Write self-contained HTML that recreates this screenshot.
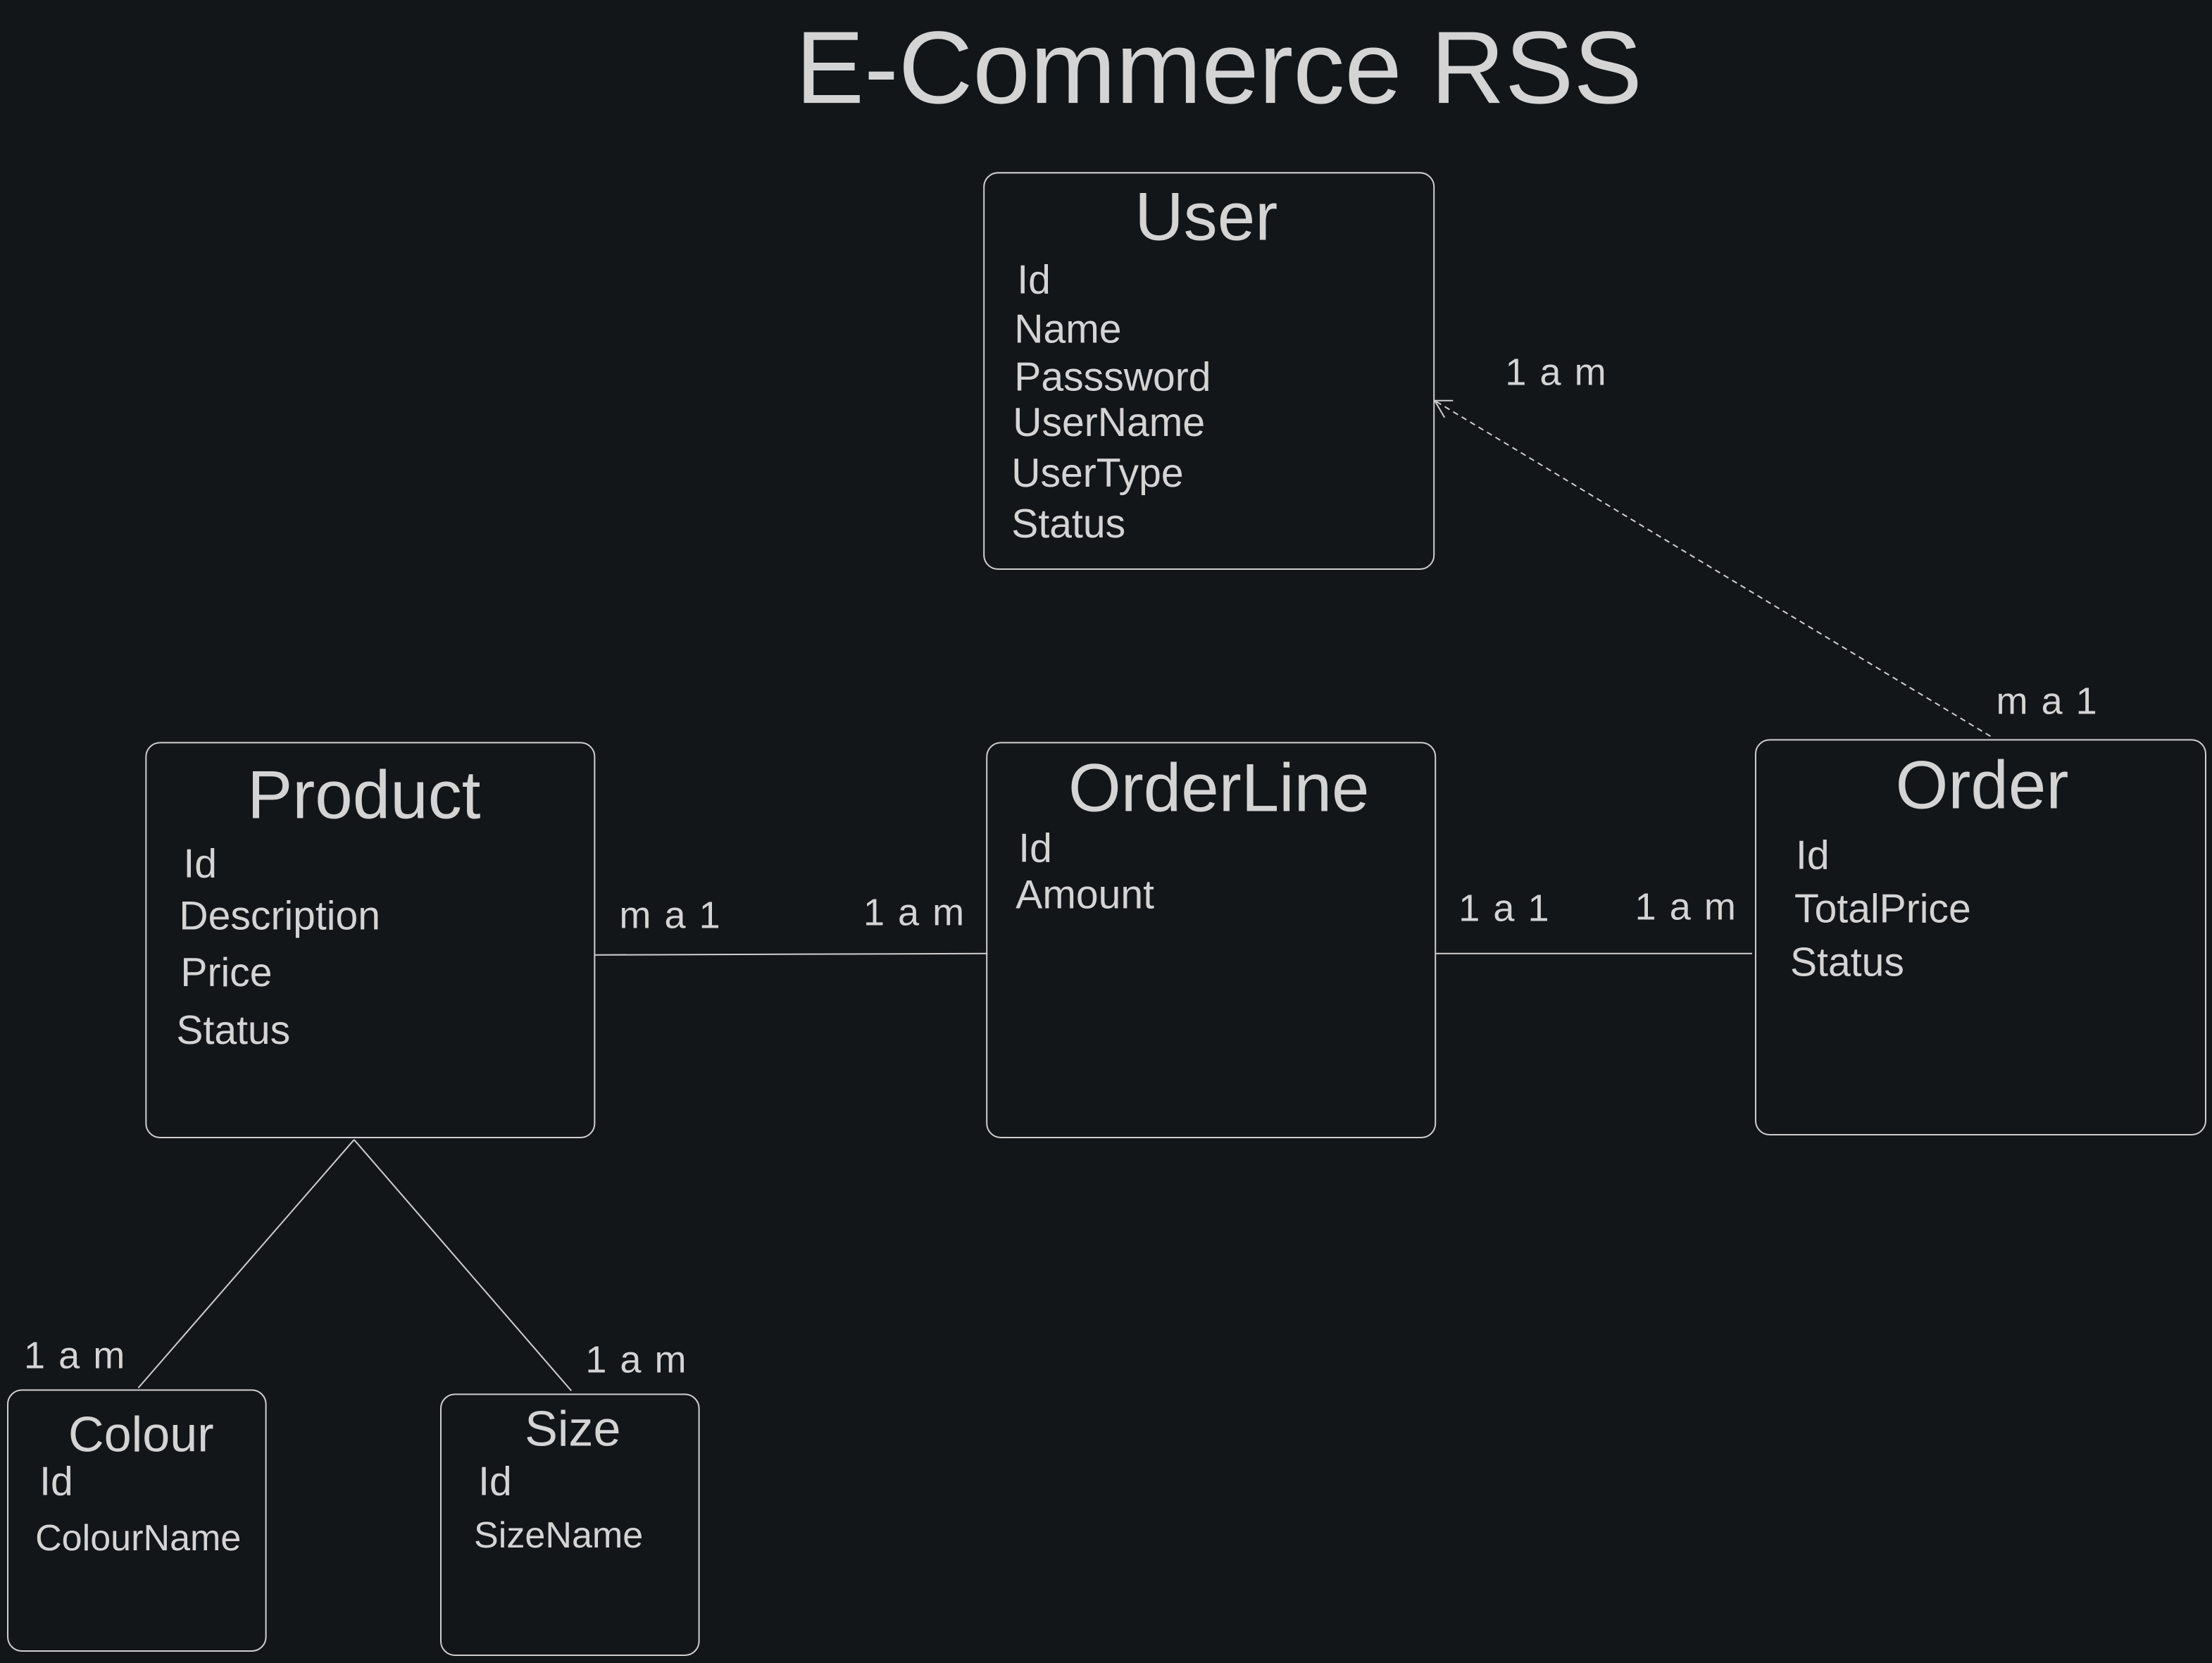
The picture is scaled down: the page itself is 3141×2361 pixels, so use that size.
<!DOCTYPE html>
<html><head><meta charset="utf-8"><style>
html,body{margin:0;padding:0;background:#131619;}
svg{display:block;}
text{font-family:"Liberation Sans",sans-serif;fill:#d4d4d4;}
.f{font-size:28.5px;}
.l{font-size:27px;letter-spacing:1px;}
.t{font-size:48px;text-anchor:middle;}
.s{font-size:26px;}
</style></head><body>
<svg width="3141" height="2361" viewBox="0 0 1568 1179" preserveAspectRatio="none" xmlns="http://www.w3.org/2000/svg">
<rect x="0" y="0" width="1568" height="1179" fill="#131619"/>
<text x="864" y="73" style="font-size:73px;text-anchor:middle">E-Commerce RSS</text>
<g fill="none" stroke="#cfcfcf" stroke-width="1">
<rect x="697.5" y="122.5" width="319" height="281" rx="10"/>
<rect x="103.5" y="526.5" width="318" height="280" rx="10"/>
<rect x="699.5" y="526.5" width="318" height="280" rx="10"/>
<rect x="1244.5" y="524.5" width="319" height="280" rx="10"/>
<rect x="5.5" y="985.5" width="183" height="185" rx="10"/>
<rect x="312.5" y="988.5" width="183" height="185" rx="10"/>
<line x1="422" y1="677" x2="700" y2="676"/>
<line x1="1018" y1="676" x2="1242" y2="676"/>
<line x1="251" y1="808" x2="98" y2="984"/>
<line x1="251" y1="808" x2="405" y2="986"/>
<line x1="1411" y1="522" x2="1017" y2="284" stroke-dasharray="4,3"/>
<polyline points="1030,284 1017,284 1024,296"/>
</g>
<text class="t" x="855" y="170">User</text>
<text class="f" x="721" y="208">Id</text>
<text class="f" x="719" y="243">Name</text>
<text class="f" x="719" y="277">Passsword</text>
<text class="f" x="718" y="309">UserName</text>
<text class="f" x="717" y="345">UserType</text>
<text class="f" x="717" y="381">Status</text>
<text class="t" x="258" y="580">Product</text>
<text class="f" x="130" y="622">Id</text>
<text class="f" x="127" y="659">Description</text>
<text class="f" x="128" y="699">Price</text>
<text class="f" x="125" y="740">Status</text>
<text class="t" x="864" y="575">OrderLine</text>
<text class="f" x="722" y="611">Id</text>
<text class="f" x="720" y="644">Amount</text>
<text class="t" x="1405" y="573">Order</text>
<text class="f" x="1273" y="616">Id</text>
<text class="f" x="1272" y="654">TotalPrice</text>
<text class="f" x="1269" y="692">Status</text>
<text x="100" y="1029" style="font-size:35px;text-anchor:middle">Colour</text>
<text class="f" x="28" y="1060">Id</text>
<text class="s" x="25" y="1099">ColourName</text>
<text x="406" y="1025" style="font-size:35px;text-anchor:middle">Size</text>
<text class="f" x="339" y="1060">Id</text>
<text class="s" x="336" y="1097">SizeName</text>
<text class="l" x="1067" y="273">1 a m</text>
<text class="l" x="1415" y="506">m a 1</text>
<text class="l" x="439" y="658">m a 1</text>
<text class="l" x="612" y="656">1 a m</text>
<text class="l" x="1034" y="653">1 a 1</text>
<text class="l" x="1159" y="652">1 a m</text>
<text class="l" x="17" y="970">1 a m</text>
<text class="l" x="415" y="973">1 a m</text>
</svg>
</body></html>
